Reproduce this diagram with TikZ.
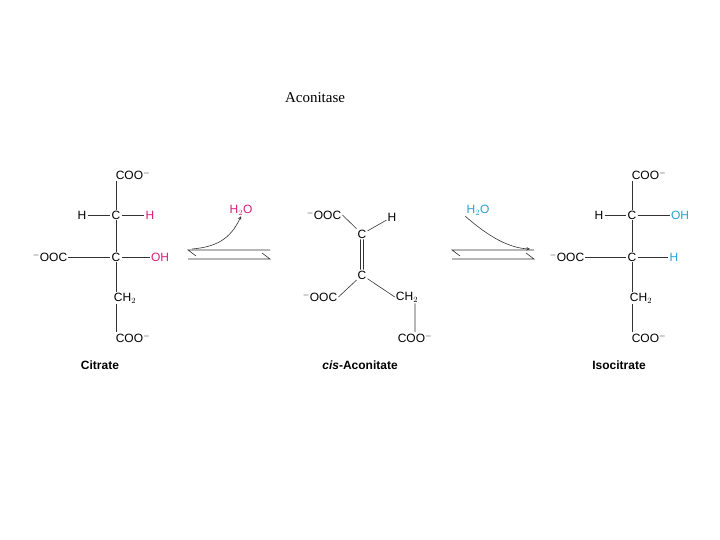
\documentclass[tikz,border=0pt]{standalone}
\usepackage{fontspec}
\setmainfont{Liberation Sans}
\newfontfamily\serifx{Liberation Serif}
\definecolor{mag}{RGB}{214,30,120}
\definecolor{cya}{RGB}{40,160,210}
\begin{document}
\begin{tikzpicture}[x=1pt,y=-1pt,
  a/.style={inner sep=1pt,font=\fontsize{12}{12}\selectfont},
  lb/.style={font=\bfseries\fontsize{12}{12}\selectfont},
  bd/.style={line width=0.6pt,black!80}]
\useasboundingbox (0,0) rectangle (720,540);
\node[font=\serifx\fontsize{15}{15}\selectfont] (ttl) at (315,98) {Aconitase};
% citrate
\node[a] (c1) at (133,175) {COO$^{-}$};
\node[a] (h1) at (82,215) {H};
\node[a] (ca) at (116,215) {C};
\node[a,text=mag] (h2) at (150,215) {H};
\node[a] (o1) at (50,257) {$^{-}$OOC};
\node[a] (cb) at (116,257) {C};
\node[a,text=mag] (oh) at (160,257) {OH};
\node[a] (ch) at (125,298) {CH$_2$};
\node[a] (c2) at (133,338) {COO$^{-}$};
\node[lb] (l1) at (100,365) {Citrate};
\draw[bd] (ca) -- (ca|-c1.south) (ca)--(cb) (cb)--(cb|-ch.north) (cb|-ch.south)--(cb|-c2.north)
 (h1)--(ca) (ca)--(h2) (o1)--(cb) (cb)--(oh);
% cis-aconitate
\node[a] (m1) at (324,215) {$^{-}$OOC};
\node[a] (mc1) at (362,234) {C};
\node[a] (mh) at (392,217) {H};
\node[a] (mc2) at (362,275) {C};
\node[a] (m2) at (320,297) {$^{-}$OOC};
\node[a] (mch) at (407,297) {CH$_2$};
\node[a] (m3) at (415,338) {COO$^{-}$};
\node[lb] (l2) at (360,365) {\itshape cis\upshape-Aconitate};
\draw[bd] (m1.east)--(mc1) (mc1)--(mh) (mc2)--(m2.east) (mc2)--(mch.west)
 ([xshift=-1.5pt]mc1.south)--([xshift=-1.5pt]mc2.north) ([xshift=1.5pt]mc1.south)--([xshift=1.5pt]mc2.north)
 (m3|-mch.south)--(m3.north);
% isocitrate
\node[a] (i1) at (649,175) {COO$^{-}$};
\node[a] (ih1) at (599,215) {H};
\node[a] (ia) at (632,215) {C};
\node[a,text=cya] (ioh) at (680,215) {OH};
\node[a] (io) at (567,257) {$^{-}$OOC};
\node[a] (ib) at (632,257) {C};
\node[a,text=cya] (ih2) at (674,257) {H};
\node[a] (ich) at (641,298) {CH$_2$};
\node[a] (i2) at (649,338) {COO$^{-}$};
\node[lb] (l3) at (619,365) {Isocitrate};
\draw[bd] (ia) -- (ia|-i1.south) (ia)--(ib) (ib)--(ib|-ich.north) (ib|-ich.south)--(ib|-i2.north)
 (ih1)--(ia) (ia)--(ioh) (io)--(ib) (ib)--(ih2);
% arrows
\node[a,text=mag] (w1) at (241,210) {H$_2$O};
\node[a,text=cya] (w2) at (478,210) {H$_2$O};
\coordinate (p1) at (188,250); \coordinate (p2) at (270,250);
\coordinate (p3) at (188,259); \coordinate (p4) at (270,259);
\draw[bd] (p2)--(p1)--++(8,6) (p3)--(p4)--++(-8,-6);
\draw[bd,->,>=stealth] (192,249) .. controls (215,247) and (230,240) .. (w1.south);
\coordinate (q1) at (452,250); \coordinate (q2) at (534,250);
\coordinate (q3) at (452,259); \coordinate (q4) at (534,259);
\draw[bd] (q2)--(q1)--++(8,6) (q3)--(q4)--++(-8,-6);
\draw[bd,->,>=stealth] (w2.south west) .. controls (490,238) and (510,248) .. (530,249);
\end{tikzpicture}
\end{document}
